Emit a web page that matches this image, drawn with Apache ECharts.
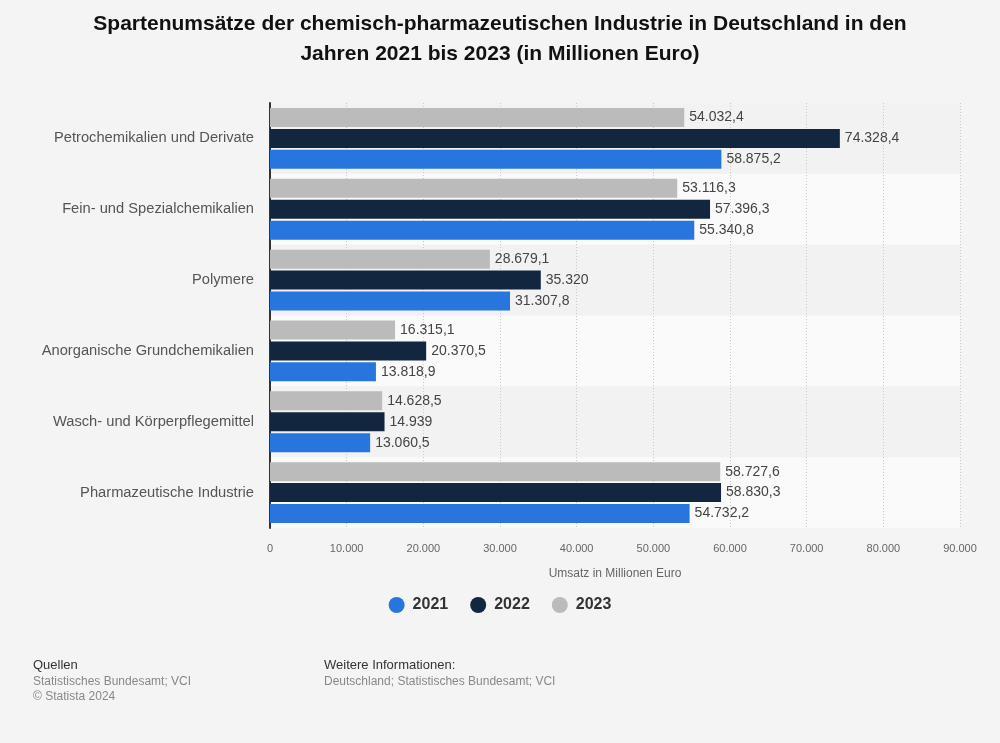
<!DOCTYPE html>
<html>
<head>
<meta charset="utf-8">
<script src="https://cdn.jsdelivr.net/npm/echarts@6/dist/echarts.min.js"></script>
<style>
html,body{margin:0;padding:0;background:#f4f4f4;}
#c{width:1000px;height:743px;}
</style>
</head>
<body>
<div id="c"></div>
<script>
const categories = ["Petrochemikalien und Derivate","Fein- und Spezialchemikalien","Polymere","Anorganische Grundchemikalien","Wasch- und Körperpflegemittel","Pharmazeutische Industrie"];
const v2021 = [58875.2, 55340.8, 31307.8, 13818.9, 13060.5, 54732.2];
const v2022 = [74328.4, 57396.3, 35320, 20370.5, 14939, 58830.3];
const v2023 = [54032.4, 53116.3, 28679.1, 16315.1, 14628.5, 58727.6];
const xTicks = [0,10000,20000,30000,40000,50000,60000,70000,80000,90000];

function fmt(v){
  const neg = v < 0; v = Math.abs(v);
  let intPart = Math.floor(v + 1e-9);
  let dec = Math.round((v - intPart) * 10);
  if (dec === 10) { intPart += 1; dec = 0; }
  const s = String(intPart).replace(/\B(?=(\d{3})+(?!\d))/g, '.');
  return (neg?'-':'') + s + (dec ? ',' + dec : '');
}

const FONT = 'Liberation Sans, Arial, sans-serif';
const chart = echarts.init(document.getElementById('c'));
const lbl = {show:true, position:'right', distance:5, color:'#444', fontSize:14, fontFamily:FONT, formatter:p=>fmt(p.value)};
function ser(name, data, color){
  return {name, type:'bar', data, barWidth:19, barGap:'10%', itemStyle:{color}, label:lbl, emphasis:{disabled:true}};
}
chart.setOption({
  backgroundColor:'#f4f4f4',
  animation:false,
  title:{
    text:'Spartenumsätze der chemisch-pharmazeutischen Industrie in Deutschland in den\nJahren 2021 bis 2023 (in Millionen Euro)',
    left:'center', top:4,
    textStyle:{fontFamily:FONT, fontWeight:'bold', fontSize:21, color:'#111', lineHeight:30}
  },
  legend:{
    data:['2021','2022','2023'], bottom:125, left:'center', icon:'circle', itemWidth:16, itemHeight:16, itemGap:22,
    textStyle:{fontFamily:FONT, fontWeight:'bold', fontSize:16, color:'#333', padding:[0,0,0,3]}
  },
  grid:{left:270, right:40, top:103, bottom:215, containLabel:false},
  xAxis:{
    type:'value', min:0, max:90000, interval:10000,
    name:'Umsatz in Millionen Euro', nameLocation:'middle', nameGap:40,
    nameTextStyle:{color:'#666', fontSize:12, fontFamily:FONT},
    axisLine:{show:false}, axisTick:{show:false},
    axisLabel:{color:'#666', fontSize:11, margin:15, fontFamily:FONT, formatter:v=>fmt(v)},
    splitLine:{show:true, lineStyle:{type:[1,2], color:'#c8c8c8', width:1}}
  },
  yAxis:{
    type:'category', data:categories, inverse:true,
    axisLine:{show:true, lineStyle:{color:'#333', width:2}},
    axisTick:{show:false},
    axisLabel:{color:'#555', fontSize:14.7, margin:16, fontFamily:FONT},
    splitArea:{show:true, areaStyle:{color:['#f2f2f2','#fafafa']}}
  },
  series:[
    ser('2023', v2023, '#bbbbbb'),
    ser('2022', v2022, '#12263f'),
    ser('2021', v2021, '#2876dd')
  ],
  graphic:[
    {type:'text', left:33, top:659, style:{text:'Quellen', fill:'#333', fontSize:13, fontFamily:FONT}},
    {type:'text', left:33, top:676, style:{text:'Statistisches Bundesamt; VCI', fill:'#888', fontSize:12, fontFamily:FONT}},
    {type:'text', left:33, top:691, style:{text:'© Statista 2024', fill:'#888', fontSize:12, fontFamily:FONT}},
    {type:'text', left:324, top:659, style:{text:'Weitere Informationen:', fill:'#333', fontSize:13, fontFamily:FONT}},
    {type:'text', left:324, top:676, style:{text:'Deutschland; Statistisches Bundesamt; VCI', fill:'#888', fontSize:12, fontFamily:FONT}}
  ]
});
</script>
</body>
</html>
